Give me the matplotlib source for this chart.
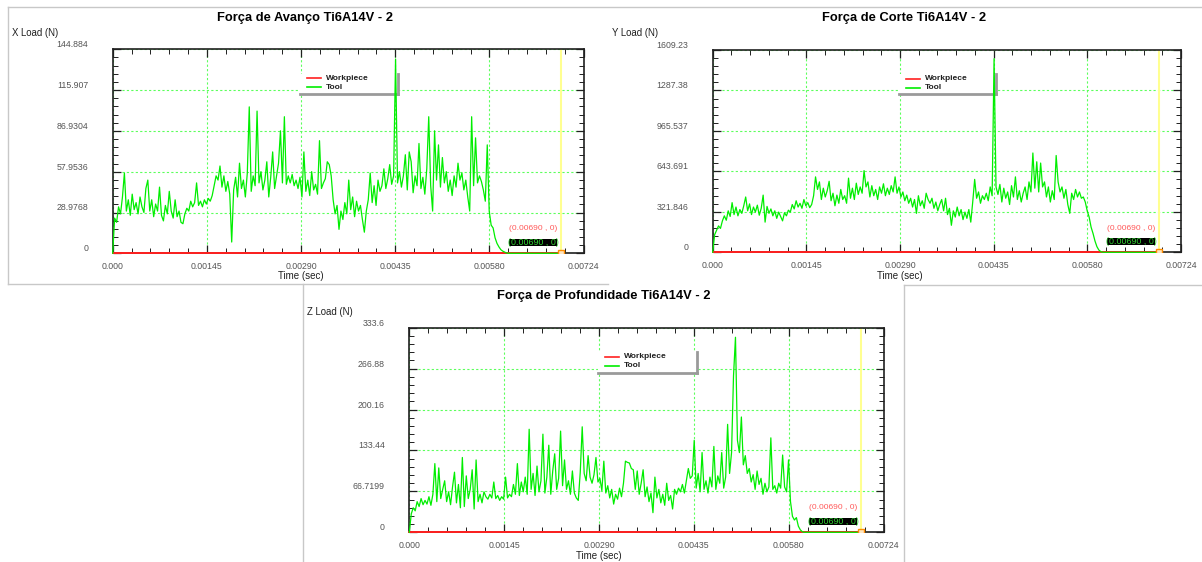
import numpy as np
import matplotlib.pyplot as plt
import matplotlib.transforms as mtransforms
from matplotlib.lines import Line2D
from matplotlib.patches import Rectangle

plt.rcParams['font.family'] = ['Liberation Sans', 'DejaVu Sans']

W, H = 1202, 562

# passo de amostragem e fim da simulacao (s)
DT = 0.00003
T_END = 0.00690
T_MAX = 0.00724
X_TICK_LABELS = ["0.000", "0.00145", "0.00290", "0.00435", "0.00580", "0.00724"]

SERIES = ["Workpiece", "Tool"]
WORKPIECE_T = [0.0, T_END]
WORKPIECE = [0.0, 0.0]

# Forca de avanco (X), N
X_LOAD = [
    0, 25, 22, 33, 28, 40, 57, 30, 38, 27, 42, 31, 36, 28, 40, 33, 29, 46, 52, 30,
    38, 26, 35, 30, 47, 27, 23, 34, 28, 44, 30, 25, 38, 26, 30, 22, 21, 28, 32, 30,
    37, 33, 36, 50, 34, 37, 33, 38, 35, 39, 37, 41, 48, 55, 52, 62, 47, 55, 44, 51,
    42, 8, 45, 54, 40, 64, 46, 52, 40, 57, 104, 44, 55, 48, 101, 50, 58, 45, 52, 65,
    40, 54, 72, 46, 55, 64, 87, 50, 97, 49, 55, 50, 56, 48, 52, 46, 54, 40, 72, 44,
    52, 41, 58, 45, 49, 42, 80, 46, 50, 53, 65, 63, 55, 38, 28, 34, 17, 30, 24, 36,
    28, 52, 31, 40, 26, 37, 30, 34, 24, 15, 30, 38, 57, 36, 48, 34, 52, 44, 48, 60,
    46, 53, 63, 49, 55, 138, 50, 58, 47, 55, 70, 45, 72, 65, 43, 55, 48, 78, 46, 54,
    42, 60, 97, 48, 30, 87, 52, 77, 47, 68, 50, 58, 44, 52, 41, 55, 47, 64, 52, 57,
    45, 52, 40, 30, 97, 48, 82, 50, 55, 51, 45, 37, 77, 30, 20, 18, 11, 7, 4.5, 2.5,
    1.5, 0.8, 0.2, 0,
]

# Forca de corte (Y), N
Y_LOAD = [
    0, 140, 175, 210, 190, 250, 290, 255, 330, 285, 395, 300, 360, 290, 340, 310, 370, 440, 330, 385,
    300, 360, 320, 375, 295, 350, 455, 240, 365, 310, 345, 290, 330, 270, 320, 285, 250, 315, 290, 335,
    320, 380, 345, 410, 360, 390, 350, 420, 370, 395, 355, 380, 450, 600, 500, 560, 420, 510, 440, 490,
    565, 410, 470, 370, 455, 390, 500, 420, 450, 390, 590, 430, 510, 420, 550, 460, 520, 470, 650, 520,
    560, 440, 530, 450, 500, 420, 520, 470, 545, 450, 510, 460, 530, 480, 600, 470, 520, 440, 480, 410,
    455, 390, 430, 360, 420, 310, 450, 370, 410, 350, 470, 420, 390, 430, 350, 400, 330, 380, 420, 330,
    430, 300, 350, 215, 330, 280, 360, 290, 340, 260, 320, 270, 340, 240, 400, 580, 430, 480, 390, 450,
    420, 470, 410, 520, 450, 1540, 520, 460, 540, 400, 510, 430, 480, 380, 530, 440, 600, 420, 490, 400,
    470, 520, 420, 560, 480, 790, 510, 720, 480, 710, 520, 560, 440, 520, 400, 490, 420, 770, 560, 480,
    520, 430, 500, 380, 310, 470, 420, 500, 440, 480, 430, 440, 400, 330, 280, 200, 150, 90, 45, 18,
    5, 0,
]

# Forca de profundidade (Z), N
Z_LOAD = [
    0, 30, 40, 35, 50, 42, 55, 45, 52, 46, 58, 44, 62, 112, 50, 105, 55, 70, 84, 50,
    66, 45, 74, 98, 48, 78, 40, 122, 42, 92, 55, 70, 102, 38, 118, 50, 62, 48, 66, 58,
    54, 62, 56, 82, 55, 60, 52, 58, 54, 90, 56, 62, 58, 78, 62, 112, 60, 82, 66, 90,
    62, 168, 70, 96, 60, 108, 66, 84, 160, 64, 90, 142, 62, 100, 128, 70, 88, 165, 76, 118,
    70, 84, 62, 100, 64, 56, 52, 98, 172, 96, 84, 125, 90, 80, 94, 122, 82, 88, 68, 116,
    64, 76, 56, 70, 46, 62, 54, 72, 58, 80, 116, 114, 113, 104, 102, 70, 100, 62, 80, 102,
    58, 74, 50, 64, 32, 90, 56, 70, 48, 62, 44, 80, 52, 60, 38, 70, 62, 72, 66, 78,
    64, 84, 104, 88, 92, 150, 72, 96, 66, 130, 70, 84, 64, 90, 74, 140, 70, 92, 80, 130,
    72, 90, 176, 96, 130, 255, 318, 150, 130, 188, 110, 125, 96, 104, 82, 94, 70, 100, 78, 88,
    62, 80, 66, 74, 154, 70, 76, 64, 80, 72, 126, 74, 66, 118, 50, 26, 20, 24, 10, 4,
    1, 0,
]

X_MAX, Y_MAX, Z_MAX = 144.884, 1609.23, 333.6
X_TICKS_LBL = ["0", "28.9768", "57.9536", "86.9304", "115.907", "144.884"]
Y_TICKS_LBL = ["0", "321.846", "643.691", "965.537", "1287.38", "1609.23"]
Z_TICKS_LBL = ["0", "66.7199", "133.44", "200.16", "266.88", "333.6"]


def fx(x):
    return x / W


def fy(y):
    return 1 - y / H


def desenha_painel(ax, carga, ymax, ylabels):
    t = np.append(np.arange(len(carga)) * DT, T_END)
    v = np.append(np.array(carga, dtype=float), 0.0)

    ax.set_xlim(0, T_MAX)
    ax.set_ylim(0, ymax)
    ax.set_xticks(np.linspace(0, T_MAX, 6))
    ax.set_xticklabels(X_TICK_LABELS)
    ax.set_xticks(np.linspace(0, T_MAX, 26), minor=True)
    ax.set_yticks(np.linspace(0, ymax, 6))
    ax.set_yticklabels(ylabels)
    ax.set_yticks(np.linspace(0, ymax, 26), minor=True)
    plt.setp(ax.get_yticklabels(), va="bottom")

    ax.tick_params(which="both", direction="in", top=True, right=True,
                   color="#202020", labelcolor="#555555", labelsize=6.3)
    ax.tick_params(which="major", length=6, width=0.9)
    ax.tick_params(which="minor", length=3.6, width=0.7)
    ax.tick_params(axis="x", pad=6)
    ax.tick_params(axis="y", pad=17.6)
    for s in ax.spines.values():
        s.set_linewidth(1.2)
        s.set_color("#202020")

    ax.set_axisbelow(True)
    ax.grid(True, which="major", color="#5cff5c", linestyle=(0, (2, 2)), linewidth=0.8)

    ax.axvline(T_END, color="#ffff90", lw=1.5, zorder=1.5)

    # legenda manual com sombra
    ax.add_patch(Rectangle((0.398, 0.781), 0.208, 0.098, transform=ax.transAxes,
                           facecolor="white", edgecolor="none", zorder=1.8))
    ax.add_line(Line2D([0.398, 0.606], [0.781, 0.781], transform=ax.transAxes,
                       color="#9a9a9a", lw=2, zorder=1.9))
    ax.add_line(Line2D([0.606, 0.606], [0.781, 0.879], transform=ax.transAxes,
                       color="#9a9a9a", lw=2, zorder=1.9))
    cores = ["#ff2020", "#00ee00"]
    for nome, cor, yy in zip(SERIES, cores, [0.858, 0.814]):
        ax.add_line(Line2D([0.412, 0.442], [yy, yy], transform=ax.transAxes,
                           color=cor, lw=1.2, zorder=5))
        ax.text(0.4535, yy, nome, transform=ax.transAxes, fontsize=6,
                fontweight="bold", color="#202020", va="center", zorder=5)

    ax.plot(WORKPIECE_T, WORKPIECE, color="#ff2020", lw=1.4, zorder=2.6, clip_on=False)
    ax.plot(t, v, color="#00ee00", lw=0.9, zorder=3, clip_on=False)
    ax.plot([T_END], [0], marker="s", ms=4, mfc="#ffe6c0", mec="#ff8c00", mew=1,
            zorder=4, clip_on=True)

    trans = mtransforms.blended_transform_factory(ax.transData, ax.transAxes)
    ax.text(0.00647, 0.12, "(0.00690 , 0)", transform=trans, color="#ff5a5a",
            fontsize=6.1, ha="center", va="center")
    caixa = Rectangle((0.0061, 0.035), 0.00074, 0.037, transform=trans,
                      facecolor="black", edgecolor="none", zorder=4)
    ax.add_patch(caixa)
    txt = ax.text(0.00647, 0.0535, "(0.00690 , 0)", transform=trans, color="#30d030",
                  fontsize=6.4, ha="center", va="center", zorder=4.5)
    txt.set_clip_path(caixa)


fig = plt.figure(figsize=(W / 100, H / 100), dpi=100)

# molduras dos paineis
bordas = [
    ((8, 7), (1202, 7)),
    ((8, 7), (8, 284)),
    ((8, 284), (608, 284)),
    ((303, 284), (303, 562)),
    ((904, 285), (904, 562)),
    ((904, 285), (1202, 285)),
]
for (x0, y0), (x1, y1) in bordas:
    fig.add_artist(Line2D([fx(x0), fx(x1)], [fy(y0), fy(y1)], color="#c8c8c8", lw=1))

paineis = [
    # (left, top, right, bottom) em px, carga, ymax, rotulos, titulo, ylabel, posicoes
    ((112.7, 49.3, 583.5, 253.3), X_LOAD, X_MAX, X_TICKS_LBL,
     "Força de Avanço Ti6A14V - 2", "X Load (N)", (305, 17.5), (12, 32.5), (301, 276)),
    ((712.7, 50.0, 1181.0, 252.3), Y_LOAD, Y_MAX, Y_TICKS_LBL,
     "Força de Corte Ti6A14V - 2", "Y Load (N)", (903.7, 17.5), (612, 33), (899.7, 276)),
    ((409.3, 327.7, 883.5, 532.3), Z_LOAD, Z_MAX, Z_TICKS_LBL,
     "Força de Profundidade Ti6A14V - 2", "Z Load (N)", (603.5, 296), (307.3, 311.7), (599, 556)),
]

for (l, t, r, b), carga, ymax, rot, titulo, ylab, pt, pyl, pxl in paineis:
    ax = fig.add_axes([fx(l), fy(b), (r - l) / W, (b - t) / H])
    desenha_painel(ax, carga, ymax, rot)
    fig.text(fx(pt[0]), fy(pt[1]), titulo, fontsize=9.3, fontweight="bold",
             ha="center", va="center")
    fig.text(fx(pyl[0]), fy(pyl[1]), ylab, fontsize=6.9, ha="left", va="center",
             color="#202020")
    fig.text(fx(pxl[0]), fy(pxl[1]), "Time (sec)", fontsize=7, ha="center",
             va="center", color="#202020")

fig.savefig("out.png", dpi=100)
